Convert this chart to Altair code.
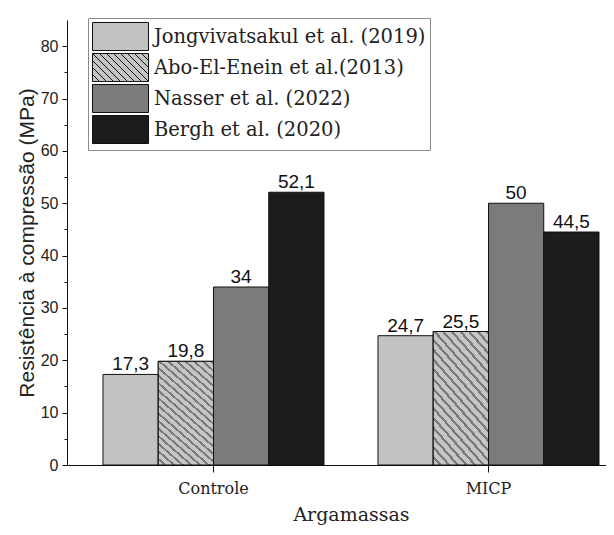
import altair as alt
import pandas as pd

# ---- data ----
categories = ["Controle", "MICP"]
series = [
    "Jongvivatsakul et al. (2019)",
    "Abo-El-Enein et al.(2013)",
    "Nasser et al. (2022)",
    "Bergh et al. (2020)",
]
controle_values = [17.3, 19.8, 34, 52.1]
micp_values = [24.7, 25.5, 50, 44.5]
y_ticks = [0, 5, 10, 15, 20, 25, 30, 35, 40, 45, 50, 55, 60, 65, 70, 75, 80]

rows = []
for cat, vals in zip(categories, [controle_values, micp_values]):
    for s, v in zip(series, vals):
        rows.append({"cat": cat, "series": s, "value": v,
                     "label": f"{v:g}".replace(".", ",")})
df = pd.DataFrame(rows)

# ---- styles ----
fills = ["#c2c2c2", "#c4c4c4", "#7b7b7b", "#1c1c1c"]

# hatch gradient ("\" lines) for the second series
N = 20
stops = []
for k in range(N):
    a = k / N
    b = (k + 0.66) / N
    c = (k + 1) / N
    stops += [
        alt.GradientStop(offset=a, color="#c6c6c6"),
        alt.GradientStop(offset=b, color="#c6c6c6"),
        alt.GradientStop(offset=b, color="#7a7a7a"),
        alt.GradientStop(offset=c, color="#7a7a7a"),
    ]
hatch = alt.LinearGradient(gradient="linear", stops=stops,
                           x1=0, y1=1, x2=0.56, y2=-0.2)

# legend symbol paths (unit rectangle 4x2, plus hatch lines)
rect = "M-1,-1H3V1H-1Z"
segs = []
x0 = -3.0
while x0 < 3.0:
    sx = max(x0, -1.0)
    ex = min(x0 + 2.0, 3.0)
    if ex - sx > 0.05:
        sy = -1.0 + (sx - x0)
        ey = -1.0 + (ex - x0)
        segs.append(f"M{sx:.3f},{sy:.3f}L{ex:.3f},{ey:.3f}")
    x0 += 0.5
hatch_path = rect + "".join(segs)
shapes = [rect, hatch_path, rect, rect]

x_enc = alt.X("cat:N", scale=alt.Scale(domain=categories, paddingInner=0.1964,
                                        paddingOuter=0.0782, align=0.837),
              axis=alt.Axis(title="Argamassas", labelAngle=0,
                            labelFont="DejaVu Serif", labelFontSize=16,
                            labelColor="#222", labelPadding=8, tickSize=7,
                            tickColor="#111", domainColor="#111",
                            titleFont="DejaVu Serif", titleFontSize=19,
                            titleFontWeight="normal", titleColor="#222",
                            titleX=284, titleY=55, titleBaseline="alphabetic",
                            titleAlign="center"))
xo_enc = alt.XOffset("series:N", scale=alt.Scale(domain=series, paddingInner=0,
                                                  paddingOuter=0))
y_enc = alt.Y("value:Q", scale=alt.Scale(domain=[0, 85], nice=False),
              axis=alt.Axis(title="Resistência à compressão (MPa)", values=y_ticks,
                            labelExpr="datum.value % 10 === 0 ? datum.label : ''",
                            tickSize={"condition": {"test": "datum.value % 10 === 0",
                                                    "value": 5}, "value": 3},
                            grid=False, labelFont="Liberation Sans",
                            labelFontSize=16, labelColor="#222", labelPadding=4,
                            tickColor="#111", domainColor="#111",
                            titleFont="Liberation Sans", titleFontSize=21,
                            titleFontWeight="normal", titleColor="#222",
                            titlePadding=3))

color_scale = alt.Scale(domain=series, range=fills)
shape_scale = alt.Scale(domain=series, range=shapes)

legend = alt.Legend(title=None, orient="none", legendX=21, legendY=-2,
                    padding=4, strokeColor="#8a8a8a", fillColor="white",
                    labelFont="DejaVu Serif", labelFontSize=19.5, labelColor="#222",
                    labelOffset=33, rowPadding=-2, symbolSize=784,
                    symbolOpacity=1, symbolStrokeWidth=1, labelLimit=400)

bars = alt.Chart(df).mark_bar(stroke="#111", strokeWidth=1).encode(
    x=x_enc, xOffset=xo_enc, y=y_enc,
    color=alt.Color("series:N", scale=color_scale, legend=legend),
)

hatched = alt.Chart(df).transform_filter(
    alt.datum.series == series[1]
).mark_bar(fill=hatch, stroke="#111", strokeWidth=1).encode(
    x=x_enc, xOffset=xo_enc, y=y_enc,
)

legend_pts = alt.Chart(df).mark_point(filled=True, opacity=0, size=784,
                                      stroke="#111", strokeWidth=1).encode(
    x=x_enc, xOffset=xo_enc, y=y_enc,
    color=alt.Color("series:N", scale=color_scale, legend=legend),
    shape=alt.Shape("series:N", scale=shape_scale, legend=legend),
)

labels = alt.Chart(df).mark_text(font="Liberation Sans", fontSize=19,
                                 baseline="alphabetic", dy=-4,
                                 color="#111").encode(
    x=x_enc, xOffset=xo_enc, y=y_enc, text="label:N",
)

chart = alt.layer(bars, hatched, labels, legend_pts).properties(
    width=539, height=445,
    autosize=alt.AutoSizeParams(type="none"),
    padding={"left": 59, "top": 12, "right": 0, "bottom": 60},
    background="white",
).configure_view(stroke=None)

chart.save("out.html", embed_options={"renderer": "svg", "actions": False})
